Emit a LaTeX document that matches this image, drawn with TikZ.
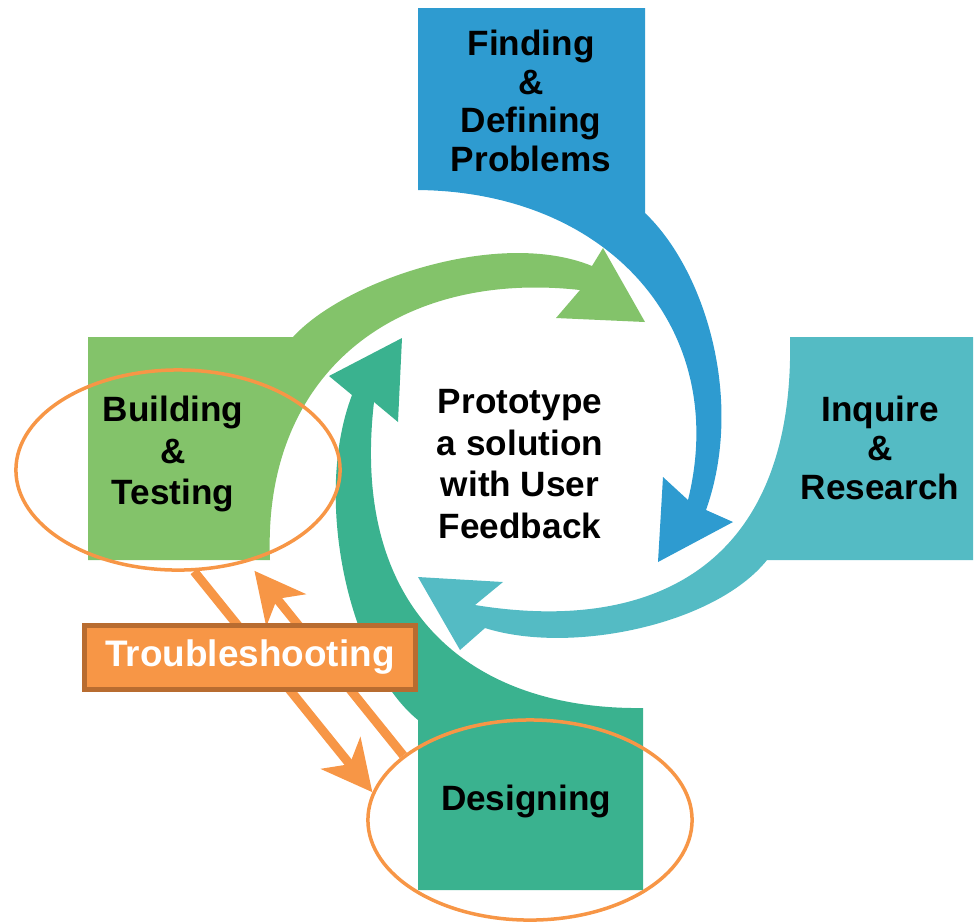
\documentclass[tikz,border=0pt]{standalone}
\usepackage{fontspec}
\setmainfont{Liberation Sans}
\usetikzlibrary{arrows.meta,shapes.geometric}

\definecolor{findblue}{RGB}{46,155,208}
\definecolor{inqteal}{RGB}{84,187,196}
\definecolor{desgreen}{RGB}{58,178,143}
\definecolor{buildgreen}{RGB}{131,195,106}
\definecolor{tsorange}{RGB}{247,150,70}
\definecolor{tsborder}{RGB}{184,108,48}

\tikzstyle{stagetext}=[align=center, inner sep=0pt, font=\fontsize{10}{11}\selectfont\bfseries]
\tikzstyle{ring}=[ellipse, draw=tsorange, line width=0.035cm, minimum width=3.24cm, minimum height=2cm, inner sep=0pt]
\tikzstyle{troublebox}=[rectangle, fill=tsorange, draw=tsborder, line width=0.05cm, minimum width=3.3cm, minimum height=0.64cm, text=white, font=\fontsize{10.5}{12}\selectfont\bfseries]
\tikzstyle{troublearrow}=[draw=tsorange, line width=0.09cm, -{Stealth[length=0.5cm,width=0.5cm,inset=0.14cm]}]

\begin{document}
\begin{tikzpicture}[x=0.01cm, y=-0.01cm]
		   \useasboundingbox (0,0) rectangle (979,923);
		   % the four stages, each a box with its curved arrow
		   \begin{scope}
			   \fill[findblue] (418,8) -- (645,8) -- (645,213)
			      .. controls (705,270) and (745,400) .. (706,510)
			      -- (733,522) -- (658,562) -- (663,477) -- (688,500)
			      .. controls (730,330) and (610,192) .. (418,190) -- cycle;
			   \fill[inqteal] (790,337) -- (973,337) -- (973,560) -- (767,560)
			      .. controls (715,625) and (570,655) .. (485,628)
			      -- (460,650) -- (418,577) -- (503,582) -- (475,605)
			      .. controls (660,635) and (795,560) .. (790,337) -- cycle;
			   \fill[desgreen] (643,708) -- (643,890) -- (418,890) -- (418,720)
			      .. controls (350,665) and (312,500) .. (352,395)
			      -- (329,376) -- (402,338) -- (398,422) -- (374,402)
			      .. controls (350,610) and (470,710) .. (643,708) -- cycle;
			   \fill[buildgreen] (88,337) -- (293,337)
			      .. controls (345,280) and (500,228) .. (592,266)
			      -- (603,248) -- (645,322) -- (556,318) -- (580,290)
			      .. controls (400,270) and (262,370) .. (270,560)
			      -- (88,560) -- cycle;
		   \end{scope}
		   \begin{scope}
			   \node (find) at (531,101) [stagetext] {Finding\\\&\\Defining\\Problems};
			   \node (inq) at (880,448) [stagetext] {Inquire\\\&\\Research};
			   \node (build) at (173,454) [stagetext, font=\fontsize{10}{11.8}\selectfont\bfseries] {Building\\\&\\Testing};
			   \node (des) at (526,801) [stagetext] {Designing};
			   \node (proto) at (520,464) [stagetext, font=\fontsize{10}{11.8}\selectfont\bfseries] {Prototype\\a solution\\with User\\Feedback};
		   \end{scope}
		   % troubleshooting loop between building and designing
		   \begin{scope}
			   \node (buildring) at (178,470) [ring] {};
			   \node (designring) at (530,820) [ring] {};
			   \draw[troublearrow] (buildring.279) -- (designring.170);
			   \draw[troublearrow, shorten >=0.11cm] (designring.153) -- (buildring.307);
			   \node (trouble) at (250,657) [troublebox] {Troubleshooting};
		   \end{scope}
	   \end{tikzpicture}
\end{document}
